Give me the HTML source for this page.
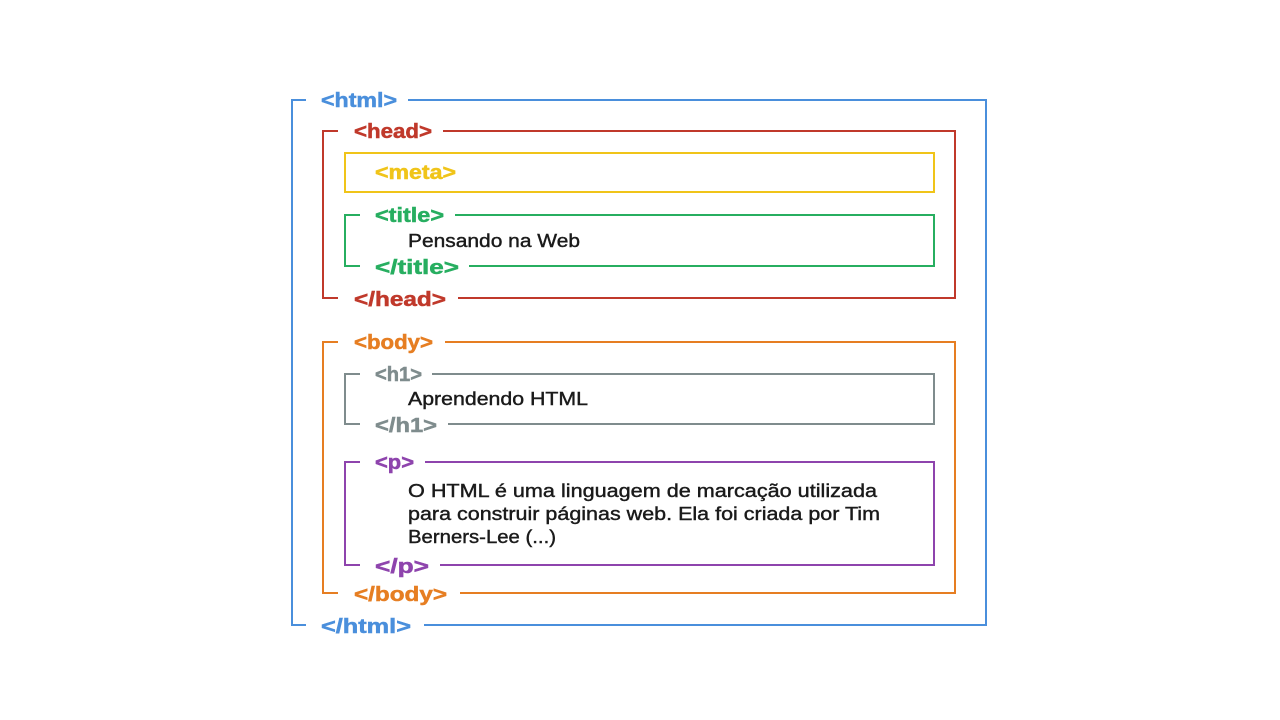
<!DOCTYPE html>
<html><head><meta charset="utf-8"><style>
html,body{margin:0;padding:0;background:#fff;width:1280px;height:720px;overflow:hidden}
svg text{font-family:"Liberation Sans",sans-serif}
.t{font-weight:bold;font-size:20px;stroke-width:0.5}
.b{font-size:18px;fill:#1a1a1a;stroke:#1a1a1a;stroke-width:0.4}
</style></head><body>
<svg width="1280" height="720" xmlns="http://www.w3.org/2000/svg" fill="none" stroke-width="2">
<!-- html -->
<g stroke="#4a8fdc"><polyline points="306,100 292,100 292,625 306,625"/><polyline points="408,100 986,100 986,625 424,625"/></g>
<text class="t" x="321" y="107" fill="#4a8fdc" stroke="#4a8fdc" textLength="76" lengthAdjust="spacingAndGlyphs">&lt;html&gt;</text>
<text class="t" x="321" y="633" fill="#4a8fdc" stroke="#4a8fdc" textLength="90" lengthAdjust="spacingAndGlyphs">&lt;/html&gt;</text>
<!-- head -->
<g stroke="#c0392b"><polyline points="338,131 323,131 323,298 338,298"/><polyline points="443,131 955,131 955,298 458,298"/></g>
<text class="t" x="354" y="138" fill="#c0392b" stroke="#c0392b" textLength="78" lengthAdjust="spacingAndGlyphs">&lt;head&gt;</text>
<text class="t" x="354" y="306" fill="#c0392b" stroke="#c0392b" textLength="92" lengthAdjust="spacingAndGlyphs">&lt;/head&gt;</text>
<!-- meta -->
<rect x="345" y="153" width="589" height="39" stroke="#f0c419"/>
<text class="t" x="375" y="179" fill="#f0c419" stroke="#f0c419" textLength="81" lengthAdjust="spacingAndGlyphs">&lt;meta&gt;</text>
<!-- title -->
<g stroke="#27ae60"><polyline points="360,215 345,215 345,266 360,266"/><polyline points="455,215 934,215 934,266 469,266"/></g>
<text class="t" x="375" y="222" fill="#27ae60" stroke="#27ae60" textLength="69" lengthAdjust="spacingAndGlyphs">&lt;title&gt;</text>
<text class="t" x="375" y="274" fill="#27ae60" stroke="#27ae60" textLength="84" lengthAdjust="spacingAndGlyphs">&lt;/title&gt;</text>
<text class="b" x="408" y="247" textLength="172" lengthAdjust="spacingAndGlyphs">Pensando na Web</text>
<!-- body -->
<g stroke="#e67e22"><polyline points="338,342 323,342 323,593 338,593"/><polyline points="445,342 955,342 955,593 460,593"/></g>
<text class="t" x="354" y="349" fill="#e67e22" stroke="#e67e22" textLength="79" lengthAdjust="spacingAndGlyphs">&lt;body&gt;</text>
<text class="t" x="354" y="601" fill="#e67e22" stroke="#e67e22" textLength="93" lengthAdjust="spacingAndGlyphs">&lt;/body&gt;</text>
<!-- h1 -->
<g stroke="#7f8c8d"><polyline points="360,374 345,374 345,424 360,424"/><polyline points="432,374 934,374 934,424 448,424"/></g>
<text class="t" x="375" y="381" fill="#7f8c8d" stroke="#7f8c8d" textLength="47" lengthAdjust="spacingAndGlyphs">&lt;h1&gt;</text>
<text class="t" x="375" y="432" fill="#7f8c8d" stroke="#7f8c8d" textLength="62" lengthAdjust="spacingAndGlyphs">&lt;/h1&gt;</text>
<text class="b" x="408" y="405" textLength="180" lengthAdjust="spacingAndGlyphs">Aprendendo HTML</text>
<!-- p -->
<g stroke="#8e44ad"><polyline points="360,462 345,462 345,565 360,565"/><polyline points="425,462 934,462 934,565 440,565"/></g>
<text class="t" x="375" y="469" fill="#8e44ad" stroke="#8e44ad" textLength="39" lengthAdjust="spacingAndGlyphs">&lt;p&gt;</text>
<text class="t" x="375" y="573" fill="#8e44ad" stroke="#8e44ad" textLength="54" lengthAdjust="spacingAndGlyphs">&lt;/p&gt;</text>
<text class="b" x="408" y="497" textLength="469" lengthAdjust="spacingAndGlyphs">O HTML  é uma linguagem de marcação utilizada</text>
<text class="b" x="408" y="520" textLength="472" lengthAdjust="spacingAndGlyphs">para construir páginas web. Ela foi criada por Tim</text>
<text class="b" x="408" y="543" textLength="148" lengthAdjust="spacingAndGlyphs">Berners-Lee (...)</text>
</svg>
</body></html>
